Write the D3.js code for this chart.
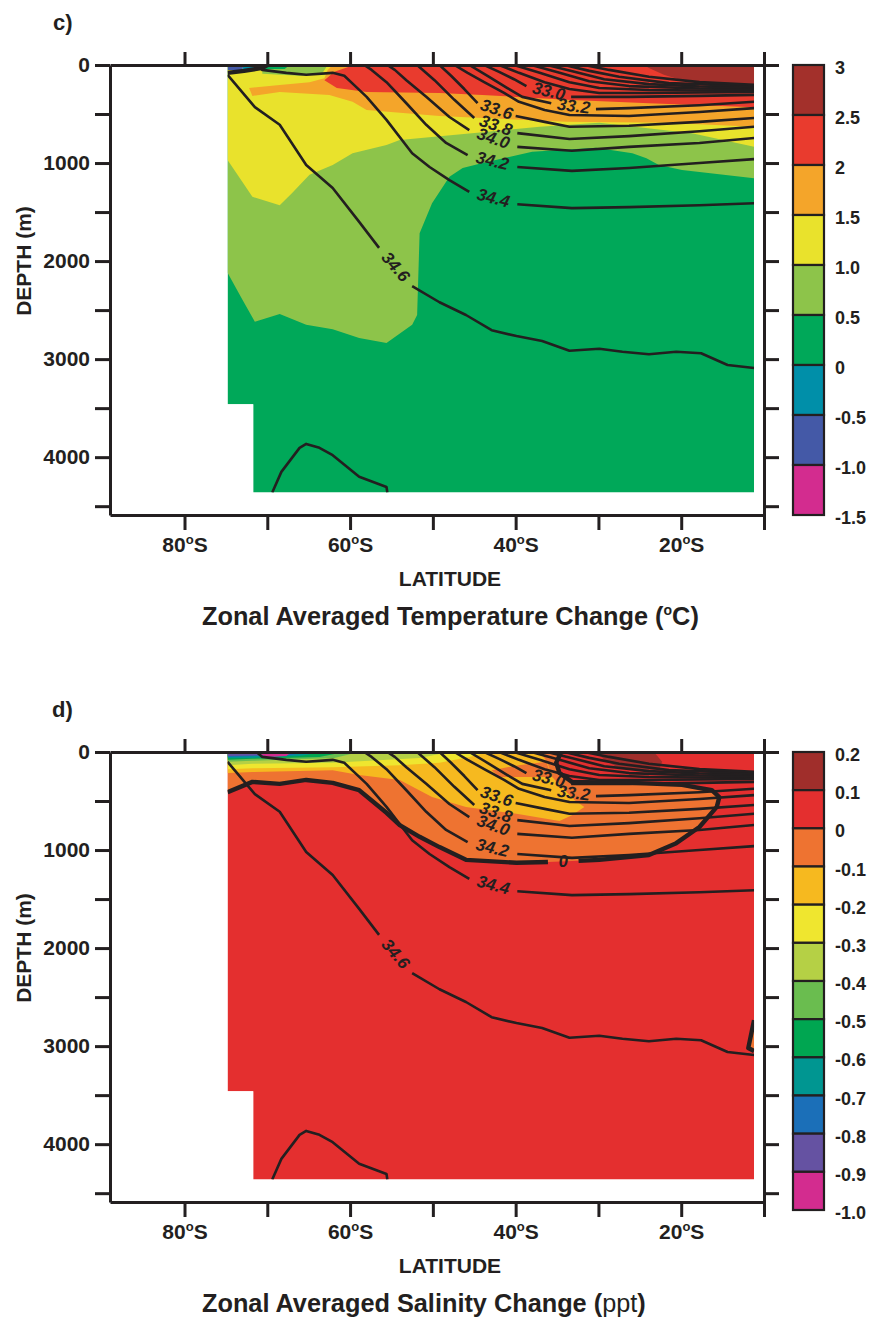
<!DOCTYPE html>
<html lang="en">
<head>
<meta charset="utf-8">
<title>Zonal averaged change</title>
<script src="https://d3js.org/d3.v7.min.js"></script>
<style>
body { margin: 0; background: #fff; }
svg text { font-family: "Liberation Sans", Arial, Helvetica, sans-serif; fill: #231f20; }
</style>
</head>
<body>
<div id="chart"></div>
<script>
var w = 872, h = 1319;

// axes
var latTicks = [-80, -70, -60, -50, -40, -30, -20, -10];
var latLabelled = [-80, -60, -40, -20];
var depthTicks = [0, 500, 1000, 1500, 2000, 2500, 3000, 3500, 4000, 4500];
var depthLabelled = [0, 1000, 2000, 3000, 4000];

// ocean section (lat, depth m)
var oceanOutline = [[-74.8,0],[-11.2,0],[-11.2,4360],[-71.7,4360],[-71.7,3460],[-74.8,3460]];

// ---- temperature change (c) ----
var tempLevels = ["3","2.5","2","1.5","1.0","0.5","0","-0.5","-1.0","-1.5"];
var tempColors = ["#a3302b","#e93b2e","#f4a52a","#e9e22c","#8dc44a","#00a859","#008fa9","#4459a7","#d32c8f"];

var tempAbove05 = [[-74.8,0],[-11.2,0],[-11.2,1155],[-19.9,1070],[-22.7,1020],[-24.2,950],[-25.9,900],[-30.3,845],[-38.0,885],[-44.0,1000],[-46.4,1050],[-48.0,1140],[-50.1,1410],[-51.6,1715],[-51.9,2550],[-52.5,2650],[-55.6,2835],[-58.9,2785],[-62.1,2695],[-65.3,2650],[-68.5,2540],[-71.5,2620],[-73.0,2395],[-74.8,2120]];
var tempAbove10 = [[-74.8,0],[-11.2,0],[-11.2,835],[-18.7,695],[-29.9,590],[-37.1,630],[-44.0,685],[-54.0,765],[-55.6,815],[-59.7,900],[-62.1,1020],[-64.9,1120],[-67.0,1305],[-68.5,1430],[-71.8,1345],[-74.8,970]];
var tempSurfStrip = [[-70.6,0],[-62.7,0],[-63.4,90],[-66.1,110],[-70.6,90]];
var tempAbove15 = [[-72.2,235],[-68.5,205],[-64.9,175],[-63.1,135],[-62.7,50],[-62.1,0],[-11.2,0],[-11.2,630],[-21.8,590],[-33.9,580],[-44.0,540],[-49.2,520],[-58.0,460],[-59.7,375],[-62.5,305],[-68.5,275],[-71.8,315]];
var tempAbove20 = [[-63.1,155],[-61.9,70],[-59.5,0],[-11.2,0],[-11.2,430],[-23.9,390],[-33.9,355],[-44.0,305],[-49.2,285],[-58.0,275],[-61.6,235]];
var tempAbove25 = [[-24.5,0],[-11.2,0],[-11.2,195],[-19.1,175],[-22.1,100],[-23.9,30]];
var tempSurfGreen = [[-70.7,0],[-67.3,0],[-67.9,40],[-70.7,40]];
var tempSurfTeal = [[-72.8,0],[-70.7,0],[-70.9,40],[-73.1,50]];
var tempSurfBlue = [[-74.8,0],[-72.8,0],[-73.1,50],[-74.8,50]];
var tempZero = [[-74.8,80],[-72.8,60],[-70.6,30],[-70.0,0]];

// ---- salinity change (d) ----
var salLevels = ["0.2","0.1","0","-0.1","-0.2","-0.3","-0.4","-0.5","-0.6","-0.7","-0.8","-0.9","-1.0"];
var salColors = ["#a02e2b","#e42f2f","#ee7331","#f6b91f","#efe62f","#b5d045","#6abd4f","#00a651","#009691","#1b6fb8","#6552a2","#d32c8f"];

var salZeroA = [[-34.5,0],[-35.1,110],[-34.7,215],[-33.2,305],[-25.9,315],[-19.9,335],[-16.3,390],[-15.4,460],[-15.7,560],[-17.8,765],[-20.6,930],[-23.9,1050],[-29.9,1100],[-32.4,1110]];
var salZeroB = [[-36.1,1122],[-39.9,1130],[-46.0,1100],[-49.2,970],[-51.6,865],[-54.0,745],[-55.6,620],[-58.9,390],[-62.1,315],[-65.3,285],[-68.5,325],[-71.8,305],[-74.8,410]];
var salZeroEdge = [[-11.2,2735],[-11.9,3020],[-11.2,3050]];
var salBelow01 = [[-74.8,0],[-37.1,0],[-36.2,100],[-35.6,255],[-32.9,490],[-31.7,560],[-33.2,645],[-34.7,705],[-39.9,630],[-46.0,560],[-50.1,460],[-54.0,285],[-58.9,235],[-62.1,185],[-71.8,205],[-74.8,215]];
var salPatch0 = [[-42.9,185],[-39.6,135],[-36.3,100],[-35.6,255],[-42.0,255]];
var salBelow02 = [[-74.8,0],[-43.2,0],[-45.6,50],[-49.2,110],[-54.0,135],[-62.1,155],[-71.8,165],[-74.8,175]];
var salBelow03 = [[-74.8,0],[-48.0,0],[-51.6,60],[-62.1,110],[-71.8,120],[-74.8,135]];
var salBelow04 = [[-74.8,0],[-58.9,0],[-61.9,60],[-71.8,90],[-74.8,100]];
var salBelow05 = [[-74.8,0],[-60.7,0],[-63.7,50],[-71.8,70],[-74.8,80]];
var salBelow06 = [[-74.8,0],[-63.1,0],[-66.1,40],[-71.8,60],[-74.8,65]];
var salBelow07 = [[-74.8,0],[-64.9,0],[-67.1,30],[-74.8,50]];
var salBelow08 = [[-74.8,0],[-66.4,0],[-67.6,30],[-74.8,40]];
var salBelow09 = [[-71.2,0],[-67.1,0],[-67.7,40],[-70.2,50]];
var salAbove01 = [[-30.3,0],[-23.3,0],[-22.3,100],[-22.7,185],[-27.5,165],[-29.3,80]];

// ---- climatological salinity contours (same in both panels) ----
var c347 = [[[-69.4,4360],[-68.3,4150],[-66.1,3905],[-65.3,3865],[-63.7,3905],[-62.1,3980],[-58.9,4200],[-55.6,4305],[-55.5,4360]]];
var c346 = [[[-74.8,100],[-71.5,430],[-68.5,610],[-65.3,1020],[-62.1,1255],[-58.9,1600],[-56.5,1865]],
            [[-52.5,2255],[-49.2,2420],[-46.0,2550],[-42.9,2705],[-39.9,2765],[-36.8,2815],[-33.5,2915],[-29.9,2895],[-27.1,2925],[-23.9,2950],[-20.6,2925],[-17.6,2940],[-14.4,3060],[-11.2,3090]]];
var c344 = [[[-71.3,0],[-70.6,50],[-67.7,80],[-65.3,100],[-62.1,80],[-60.7,110],[-59.5,205],[-58.0,325],[-55.6,560],[-52.5,900],[-50.4,1040],[-48.0,1175],[-45.6,1295]],
            [[-39.8,1420],[-33.2,1460],[-26.3,1450],[-17.8,1430],[-11.2,1410]]];
var c342 = [[[-58.3,0],[-57.4,50],[-55.6,175],[-53.2,390],[-50.8,610],[-48.4,795],[-45.8,920]],
            [[-39.8,1040],[-33.2,1080],[-26.3,1050],[-17.8,1000],[-11.2,960]]];
var c340 = [[[-55.5,0],[-54.6,50],[-53.2,155],[-50.8,325],[-48.0,530],[-45.6,665]],
            [[-39.8,835],[-33.2,875],[-26.3,835],[-17.8,795],[-11.2,745]]];
var c338 = [[[-51.9,0],[-49.8,155],[-47.4,355],[-45.0,540]],
            [[-39.8,695],[-33.5,755],[-26.3,725],[-17.8,675],[-11.2,630]]];
var c336 = [[[-49.2,0],[-47.8,110],[-46.2,245],[-44.6,390]],
            [[-40.0,520],[-36.5,580],[-33.5,630],[-26.3,620],[-17.8,580],[-11.2,540]]];
var c334 = [[[-47.4,0],[-45.8,80],[-43.8,175],[-41.4,285],[-39.6,375],[-36.5,460],[-33.5,510],[-26.3,520],[-17.8,480],[-11.2,440]]];
var c332 = [[[-45.6,0],[-43.2,120],[-41.0,235],[-39.2,325],[-35.7,390]],
            [[-30.3,450],[-26.3,440],[-17.8,410],[-11.2,375]]];
var c330 = [[[-43.8,0],[-42.0,70],[-40.2,145],[-38.7,215]],
            [[-33.3,325],[-26.3,325],[-17.8,315],[-11.2,305]]];
var c328 = [[[-42.0,0],[-39.6,80],[-36.5,175],[-33.5,245],[-29.9,285],[-23.9,285],[-17.8,280],[-11.2,275]]];
var c326 = [[[-40.2,0],[-37.1,80],[-33.5,175],[-29.9,235],[-23.9,255],[-17.8,260],[-11.2,262]]];
var c324 = [[[-38.1,0],[-34.7,80],[-31.1,165],[-26.3,215],[-17.8,240],[-11.2,247]]];
var c322 = [[[-36.2,0],[-32.9,70],[-29.3,145],[-23.9,195],[-17.8,220],[-11.2,232]]];
var c320 = [[[-34.1,0],[-31.1,60],[-27.5,120],[-21.5,185],[-11.2,217]]];
var c318 = [[[-31.7,0],[-28.7,50],[-23.9,120],[-17.8,175],[-11.2,203]]];

var climContours = [
  {label: "34.7", parts: c347}, {label: "34.6", parts: c346}, {label: "34.4", parts: c344},
  {label: "34.2", parts: c342}, {label: "34.0", parts: c340}, {label: "33.8", parts: c338},
  {label: "33.6", parts: c336}, {label: "33.4", parts: c334}, {label: "33.2", parts: c332},
  {label: "33.0", parts: c330}, {label: "32.8", parts: c328}, {label: "32.6", parts: c326},
  {label: "32.4", parts: c324}, {label: "32.2", parts: c322}, {label: "32.0", parts: c320},
  {label: "31.8", parts: c318}
];

var svg = d3.select("#chart").append("svg").attr("width", w).attr("height", h);

var x = d3.scaleLinear().domain([-89, -10]).range([110, 764]);

function labelInGap(g, parts, text, y){
  if (parts.length < 2) return;
  var a = parts[0][parts[0].length-1], b = parts[1][0];
  var x1 = x(a[0]), y1 = y(a[1]), x2 = x(b[0]), y2 = y(b[1]);
  var ang = Math.atan2(y2-y1, x2-x1) * 180 / Math.PI;
  if (ang > 90) ang -= 180;
  if (ang < -90) ang += 180;
  g.append("text")
    .attr("transform", "translate(" + (x1+x2)/2 + "," + (y1+y2)/2 + ") rotate(" + ang + ")")
    .attr("text-anchor", "middle")
    .attr("dominant-baseline", "central")
    .attr("font-size", 17)
    .attr("font-weight", "bold")
    .attr("font-style", "italic")
    .text(text);
}

function drawPanel(p){
  var y = d3.scaleLinear().domain([0, 4590]).range([p.top, p.top + 450]);
  var line = d3.line().x(function(d){return x(d[0]);}).y(function(d){return y(d[1]);});

  svg.append("clipPath").attr("id", "clip-" + p.name)
    .append("path").attr("d", line(oceanOutline) + "Z");
  var g = svg.append("g").attr("clip-path", "url(#clip-" + p.name + ")");

  g.append("path").attr("d", line(oceanOutline) + "Z").attr("fill", p.colors[p.base]);
  g.selectAll("path.band").data(p.layers).enter().append("path")
    .attr("class", "band")
    .attr("d", function(d){ return line(d.pts) + "Z"; })
    .attr("fill", function(d){ return p.colors[d.band]; });

  // climatology contours
  climContours.forEach(function(c){
    c.parts.forEach(function(pt){
      g.append("path").attr("d", line(pt)).attr("fill", "none")
        .attr("stroke", "#231f20").attr("stroke-width", 2.6).attr("stroke-linejoin", "round");
    });
  });
  // zero contour of the change
  p.zeros.forEach(function(z){
    z.parts.forEach(function(pt){
      g.append("path").attr("d", line(pt)).attr("fill", "none")
        .attr("stroke", "#231f20").attr("stroke-width", 4.4).attr("stroke-linejoin", "round");
    });
  });
  climContours.forEach(function(c){ labelInGap(g, c.parts, c.label, y); });
  p.zeros.forEach(function(z){ if (z.label) labelInGap(g, z.parts, z.label, y); });

  // axes
  var ax = svg.append("g").attr("transform", "translate(0," + p.top + ")")
    .call(d3.axisTop(x).tickValues(latTicks).tickSize(13).tickSizeOuter(0).tickFormat(""));
  var ab = svg.append("g").attr("transform", "translate(0," + (p.top + 450) + ")")
    .call(d3.axisBottom(x).tickValues(latTicks).tickSize(15).tickSizeOuter(0).tickPadding(7));
  var al = svg.append("g").attr("transform", "translate(110,0)")
    .call(d3.axisLeft(y).tickValues(depthTicks).tickSize(15).tickSizeOuter(0).tickPadding(5)
      .tickFormat(function(d){ return depthLabelled.indexOf(d) >= 0 ? d : ""; }));
  var ar = svg.append("g").attr("transform", "translate(764,0)")
    .call(d3.axisRight(y).tickValues(depthTicks).tickSize(15).tickSizeOuter(0).tickFormat(""));

  [ax, ab, al, ar].forEach(function(a){
    a.attr("font-family", null).attr("font-size", 21).attr("font-weight", "bold").attr("color", "#231f20");
    a.selectAll("line, path").attr("stroke-width", 3);
  });

  ab.selectAll(".tick text").each(function(d){
    var t = d3.select(this);
    t.text("");
    if (latLabelled.indexOf(d) < 0) return;
    t.append("tspan").text(Math.abs(d));
    t.append("tspan").attr("font-size", 13).attr("dy", -8).text("o");
    t.append("tspan").attr("dy", 8).text("S");
  });

  // labels
  svg.append("text").attr("x", p.letterX).attr("y", p.top - 35)
    .attr("font-size", 22).attr("font-weight", "bold").text(p.letter);
  svg.append("text").attr("x", 450).attr("y", p.top + 521)
    .attr("text-anchor", "middle").attr("font-size", 21).attr("font-weight", "bold").text("LATITUDE");
  svg.append("text").attr("transform", "translate(31," + (p.top + 196) + ") rotate(-90)")
    .attr("text-anchor", "middle").attr("font-size", 21).attr("font-weight", "bold").text("DEPTH (m)");

  var title = svg.append("text").attr("x", 202).attr("y", p.top + 560)
    .attr("font-size", 25.3).attr("font-weight", "bold");
  p.title(title);

  // colour bar
  var cy = d3.scaleLinear().domain([0, p.colors.length]).range(p.barRange);
  svg.selectAll("rect.cb-" + p.name).data(p.colors).enter().append("rect")
    .attr("class", "cb-" + p.name)
    .attr("x", 793).attr("width", 31)
    .attr("y", function(d, i){ return cy(i); })
    .attr("height", function(d, i){ return cy(i+1) - cy(i); })
    .attr("fill", function(d){ return d; })
    .attr("stroke", "#231f20").attr("stroke-width", 2.2);
  svg.selectAll("text.cl-" + p.name).data(p.levels).enter().append("text")
    .attr("class", "cl-" + p.name)
    .attr("x", 835)
    .attr("y", function(d, i){ return cy(i) + 3; })
    .attr("dominant-baseline", "central")
    .attr("font-size", 18).attr("font-weight", "bold")
    .text(function(d){ return d; });
}

drawPanel({
  name: "temp", top: 65, letter: "c)", letterX: 53,
  colors: tempColors, levels: tempLevels, base: 5, barRange: [65, 515],
  layers: [
    {pts: tempAbove05, band: 4}, {pts: tempAbove10, band: 3}, {pts: tempSurfStrip, band: 4},
    {pts: tempAbove15, band: 2}, {pts: tempAbove20, band: 1}, {pts: tempAbove25, band: 0},
    {pts: tempSurfGreen, band: 5}, {pts: tempSurfTeal, band: 6}, {pts: tempSurfBlue, band: 7}
  ],
  zeros: [{parts: [tempZero]}],
  title: function(t){
    t.append("tspan").text("Zonal Averaged Temperature Change (");
    t.append("tspan").attr("font-size", 14).attr("dy", -10).text("o");
    t.append("tspan").attr("dy", 10).text("C)");
  }
});

drawPanel({
  name: "sal", top: 752, letter: "d)", letterX: 52,
  colors: salColors, levels: salLevels, base: 1, barRange: [752, 1210],
  layers: [
    {pts: salZeroA.concat(salZeroB).concat([[-74.8,0]]), band: 2},
    {pts: salBelow01, band: 3}, {pts: salPatch0, band: 2},
    {pts: salBelow02, band: 4}, {pts: salBelow03, band: 5}, {pts: salBelow04, band: 6},
    {pts: salBelow05, band: 7}, {pts: salBelow06, band: 8}, {pts: salBelow07, band: 9},
    {pts: salBelow08, band: 10}, {pts: salBelow09, band: 11}, {pts: salAbove01, band: 0},
    {pts: salZeroEdge, band: 2}
  ],
  zeros: [{parts: [salZeroA, salZeroB], label: "0"}, {parts: [salZeroEdge]}],
  title: function(t){
    t.append("tspan").text("Zonal Averaged Salinity Change (");
    t.append("tspan").attr("font-weight", "normal").text("ppt");
    t.append("tspan").text(")");
  }
});
</script>
</body>
</html>
